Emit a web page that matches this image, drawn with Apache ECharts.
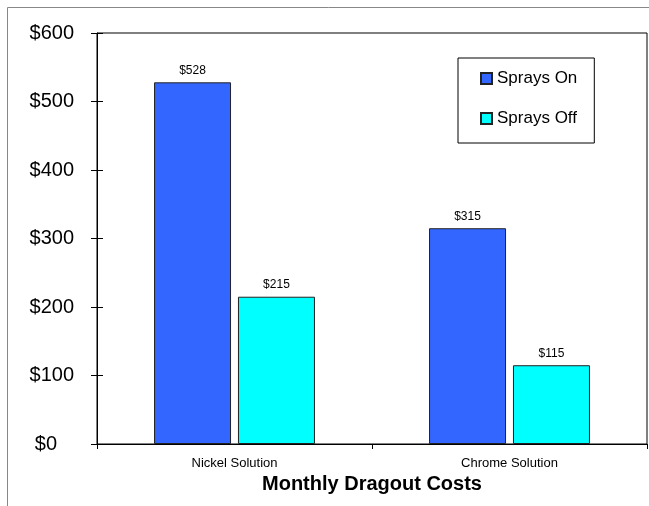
<!DOCTYPE html>
<html><head><meta charset="utf-8">
<script src="https://cdn.jsdelivr.net/npm/echarts@6/dist/echarts.min.js"></script>
<style>html,body{margin:0;padding:0;background:#fff}#c{width:649px;height:506px}</style>
</head><body><div id="c"></div>
<script>
var categories = ['Nickel Solution', 'Chrome Solution'];
var spraysOn = [528, 315];
var spraysOff = [215, 115];
var seriesNames = ['Sprays On', 'Sprays Off'];
var yTicks = [0, 100, 200, 300, 400, 500, 600];

var chart = echarts.init(document.getElementById('c'), null, {renderer: 'canvas'});
var font = 'Liberation Sans, Arial, sans-serif';
function lbl() {
  return {show: true, position: 'top', distance: 6, color: '#000', fontSize: 12, fontFamily: font,
    formatter: function (p) { return '$' + p.value; }};
}
chart.setOption({
  animation: false,
  backgroundColor: '#fff',
  graphic: [{type: 'rect', shape: {x: 7.5, y: 7.5, width: 700, height: 600},
    style: {fill: 'none', stroke: '#888', lineWidth: 1}, silent: true, z: -1}],
  grid: {left: 97, top: 33, right: 2, bottom: 62, show: true, borderColor: '#000', borderWidth: 1, backgroundColor: 'transparent'},
  legend: {
    data: seriesNames, orient: 'vertical', left: 458, top: 58,
    itemWidth: 11, itemHeight: 11, itemGap: 23, icon: 'rect',
    padding: [12, 17, 16, 22], borderColor: '#000', borderWidth: 1, borderRadius: 0,
    textStyle: {fontSize: 17, fontFamily: font, color: '#000'}
  },
  xAxis: {
    type: 'category', data: categories,
    axisLine: {lineStyle: {color: '#000', width: 1}},
    axisTick: {show: true, length: 5, alignWithLabel: false, lineStyle: {color: '#000'}},
    axisLabel: {color: '#000', fontSize: 13, fontFamily: font, margin: 13},
    name: 'Monthly Dragout Costs', nameLocation: 'middle', nameGap: 29,
    nameTextStyle: {fontSize: 20, fontWeight: 'bold', fontFamily: font, color: '#000'}
  },
  yAxis: [{
    type: 'value', min: yTicks[0], max: yTicks[yTicks.length - 1], interval: 100,
    axisLine: {show: true, lineStyle: {color: '#000'}},
    axisTick: {show: true, length: 6, lineStyle: {color: '#000'}},
    splitLine: {show: false},
    axisLabel: {color: '#000', fontSize: 20, fontFamily: font, margin: 23,
      formatter: function (v) { return v === 0 ? '{z|$0}' : '$' + v; },
      rich: {z: {fontSize: 20, fontFamily: font, color: '#000', padding: [0, 17, 0, 0]}}}
  }, {
    type: 'value', position: 'left', min: yTicks[0], max: yTicks[yTicks.length - 1], interval: 100,
    axisLine: {show: false},
    axisTick: {show: true, inside: true, length: 6, lineStyle: {color: '#000'}},
    splitLine: {show: false}, axisLabel: {show: false}
  }],
  series: [{
    name: seriesNames[0], type: 'bar', data: spraysOn, barWidth: 77, barGap: '9%',
    itemStyle: {color: '#3366FF', borderColor: '#222', borderWidth: 1}, label: lbl()
  }, {
    name: seriesNames[1], type: 'bar', data: spraysOff, barWidth: 77, barGap: '9%',
    itemStyle: {color: '#00FFFF', borderColor: '#222', borderWidth: 1}, label: lbl()
  }]
});
</script></body></html>
